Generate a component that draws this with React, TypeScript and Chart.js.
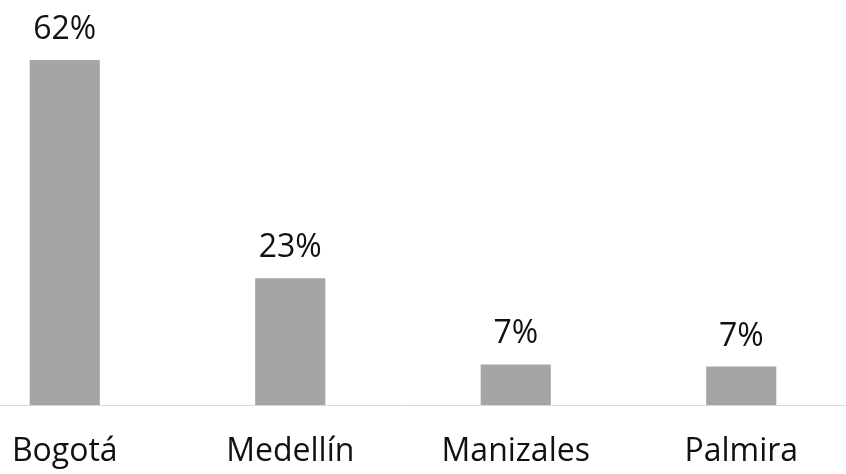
import React, { useEffect, useRef } from "react";
import { Chart, registerables } from "chart.js";

Chart.register(...registerables);

const categories = ["Bogotá", "Medellín", "Manizales", "Palmira"];
const shares = [62, 22.8, 7.3, 6.9];

const valueLabels = {
  id: "valueLabels",
  afterDatasetsDraw(chart: any) {
    const ctx = chart.ctx;
    const meta = chart.getDatasetMeta(0);
    ctx.save();
    ctx.font = "32px 'Open Sans'";
    ctx.fillStyle = "#111111";
    ctx.textAlign = "center";
    ctx.textBaseline = "alphabetic";
    meta.data.forEach((bar: any, i: number) => {
      const v = chart.data.datasets[0].data[i];
      ctx.fillText(Math.round(v) + "%", bar.x, bar.y - 21);
    });
    ctx.restore();
  },
};

export default function App() {
  const ref = useRef<HTMLCanvasElement>(null);
  useEffect(() => {
    if (!ref.current) return;
    const chart = new Chart(ref.current, {
      type: "bar",
      data: {
        labels: categories,
        datasets: [
          {
            data: shares,
            backgroundColor: "#a5a5a5",
            barPercentage: 1,
            categoryPercentage: 0.311,
          },
        ],
      },
      options: {
        animation: false,
        responsive: false,
        maintainAspectRatio: false,
        layout: { padding: 0 },
        plugins: { legend: { display: false }, tooltip: { enabled: false } },
        scales: {
          x: {
            grid: { display: false, drawTicks: false },
            border: { display: true, color: "#d9d9d9", width: 1 },
            ticks: {
              color: "#111111",
              font: { family: "'Open Sans'", size: 32 },
              padding: 28,
              maxRotation: 0,
            },
            afterFit(scale: any) {
              scale.height = 69;
            },
          },
          y: {
            display: false,
            min: 0,
            max: 72.8,
          },
        },
      },
      plugins: [valueLabels],
    });
    return () => chart.destroy();
  }, []);
  return (
    <div
      style={{
        position: "absolute",
        left: 0,
        top: 0,
        width: 846,
        height: 474,
        overflow: "hidden",
        background: "#fff",
      }}
    >
      <canvas
        ref={ref}
        width={902}
        height={474}
        style={{ position: "absolute", left: -48, top: 0, width: 902, height: 474 }}
      />
    </div>
  );
}
